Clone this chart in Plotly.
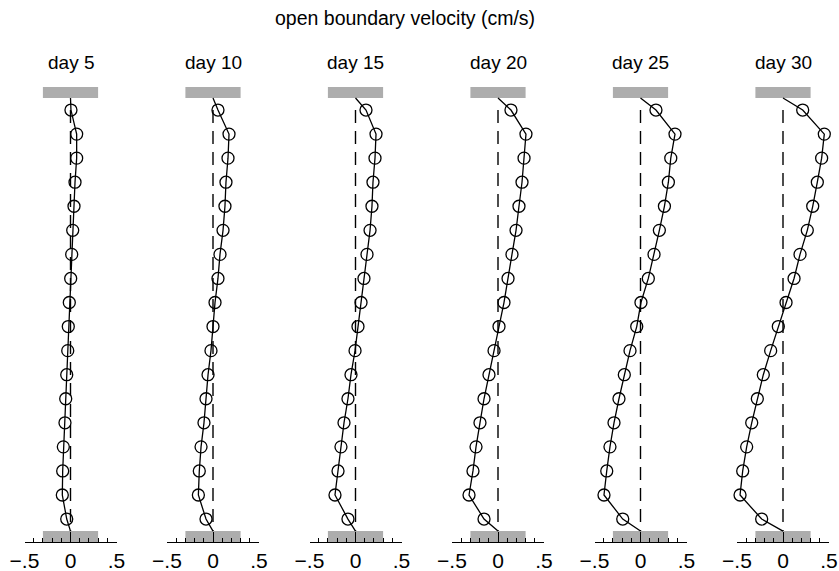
import plotly.graph_objects as go

# ---- data ----
days = ["day 5", "day 10", "day 15", "day 20", "day 25", "day 30"]
vel_day5 = [0.005, 0.067, 0.067, 0.049, 0.038, 0.024, 0.013, 0.002, -0.013,
            -0.024, -0.030, -0.041, -0.052, -0.060, -0.078, -0.085, -0.089, -0.041]
vel_day10 = [0.054, 0.174, 0.163, 0.141, 0.130, 0.109, 0.076, 0.054, 0.022,
             0.000, -0.022, -0.054, -0.076, -0.098, -0.130, -0.149, -0.159, -0.076]
vel_day15 = [0.114, 0.223, 0.212, 0.190, 0.179, 0.158, 0.125, 0.092, 0.060,
             0.027, -0.005, -0.049, -0.082, -0.125, -0.158, -0.190, -0.223, -0.082]
vel_day20 = [0.141, 0.304, 0.283, 0.261, 0.228, 0.196, 0.152, 0.109, 0.065,
             0.011, -0.043, -0.098, -0.152, -0.196, -0.239, -0.272, -0.315, -0.152]
vel_day25 = [0.168, 0.375, 0.329, 0.303, 0.260, 0.205, 0.147, 0.085, 0.005,
             -0.041, -0.114, -0.176, -0.234, -0.288, -0.332, -0.367, -0.397, -0.193]
vel_day30 = [0.214, 0.449, 0.420, 0.373, 0.323, 0.264, 0.185, 0.120, 0.033,
             -0.051, -0.134, -0.214, -0.279, -0.340, -0.395, -0.438, -0.467, -0.232]
series = [vel_day5, vel_day10, vel_day15, vel_day20, vel_day25, vel_day30]

tick_vals = [-0.5, 0, 0.5]
tick_text = ["\u2212.5", "0", ".5"]
bar_half_width = 0.3      # grey boundary bars
bar_thickness = 0.46
title_text = "open boundary velocity (cm/s)"

# ---- layout geometry ----
W, H = 839, 571
n_lev = len(vel_day5)
levels = [i + 0.5 for i in range(n_lev)]
y_top, y_bot = 0.0, float(n_lev)
y_range = [18.45, -0.6]
px0, pxs = 98.0, 24.06           # pixel of y=0, pixels per level
T = px0 + pxs * y_range[1]
B = px0 + pxs * y_range[0]
ydom = [1 - B / H, 1 - T / H]

FONT = "Liberation Sans, Arial, Helvetica, sans-serif"

fig = go.Figure()
layout = dict(
    width=W, height=H, autosize=False, margin=dict(l=0, r=0, t=0, b=0, pad=0),
    paper_bgcolor="white", plot_bgcolor="white", showlegend=False,
    font=dict(family=FONT, color="black"),
)
annotations = []
shapes = []
for k, (name, vals) in enumerate(zip(days, series)):
    z = 70.5 + 142.5 * k
    xa = "xaxis" if k == 0 else f"xaxis{k+1}"
    ya = "yaxis" if k == 0 else f"yaxis{k+1}"
    xr = "x" if k == 0 else f"x{k+1}"
    yr = "y" if k == 0 else f"y{k+1}"
    layout[xa] = dict(
        domain=[(z - 46) / W, (z + 46) / W], range=[-0.5, 0.5],
        anchor=yr, showgrid=False, zeroline=False, automargin=False,
        showline=True, linecolor="black", linewidth=1.4,
        tickmode="array", tickvals=tick_vals, ticktext=tick_text,
        ticks="inside", ticklen=10, tickwidth=1.4, tickcolor="black",
        tickfont=dict(family=FONT, size=21, color="black"),
        minor=dict(tickmode="linear", tick0=0, dtick=0.1, ticks="inside",
                   ticklen=4, tickwidth=1.3, tickcolor="black"),
        fixedrange=True,
    )
    layout[ya] = dict(domain=ydom, range=y_range, anchor=xr, visible=False,
                      automargin=False, fixedrange=True)

    # grey boundary bars
    for (y0, y1) in [(y_top - bar_thickness, y_top), (y_bot, y_bot + bar_thickness)]:
        shapes.append(dict(type="rect", xref=xr, yref=yr,
                           x0=-bar_half_width, x1=bar_half_width, y0=y0, y1=y1,
                           fillcolor="#adadad", line=dict(width=0), layer="below"))

    # dashed zero line
    fig.add_trace(go.Scatter(x=[0, 0], y=[levels[0], y_bot], mode="lines",
                             line=dict(color="black", width=1.4, dash="13px,8px"),
                             xaxis=xr, yaxis=yr, hoverinfo="skip"))
    # profile line
    fig.add_trace(go.Scatter(x=[0] + vals + [0], y=[y_top] + levels + [y_bot],
                             mode="lines", line=dict(color="black", width=1.3),
                             xaxis=xr, yaxis=yr, cliponaxis=False))
    # circles
    fig.add_trace(go.Scatter(x=vals, y=levels, mode="markers",
                             marker=dict(symbol="circle-open", size=12, color="black",
                                         line=dict(width=1.3)),
                             xaxis=xr, yaxis=yr, cliponaxis=False))
    annotations.append(dict(text=name, xref=xr, yref="paper", x=0, y=1 - 62 / H,
                            xanchor="center", yanchor="middle", showarrow=False,
                            font=dict(family=FONT, size=19, color="black")))

annotations.append(dict(text=title_text, xref="paper", yref="paper",
                        x=404.5 / W, y=1 - 18 / H, xanchor="center", yanchor="middle",
                        showarrow=False, font=dict(family=FONT, size=19.5, color="black")))
layout["annotations"] = annotations
layout["shapes"] = shapes
fig.update_layout(**layout)

post = """
document.documentElement.style.margin='0';
document.documentElement.style.overflow='hidden';
document.body.style.margin='0';
document.body.style.padding='0';
document.body.style.overflow='hidden';
var gd = document.getElementById('{plot_id}');
Plotly.relayout(gd, {width: %d, height: %d});
""" % (W, H)
fig.write_html("out.html", config={"responsive": False, "displayModeBar": False},
               post_script=post)
